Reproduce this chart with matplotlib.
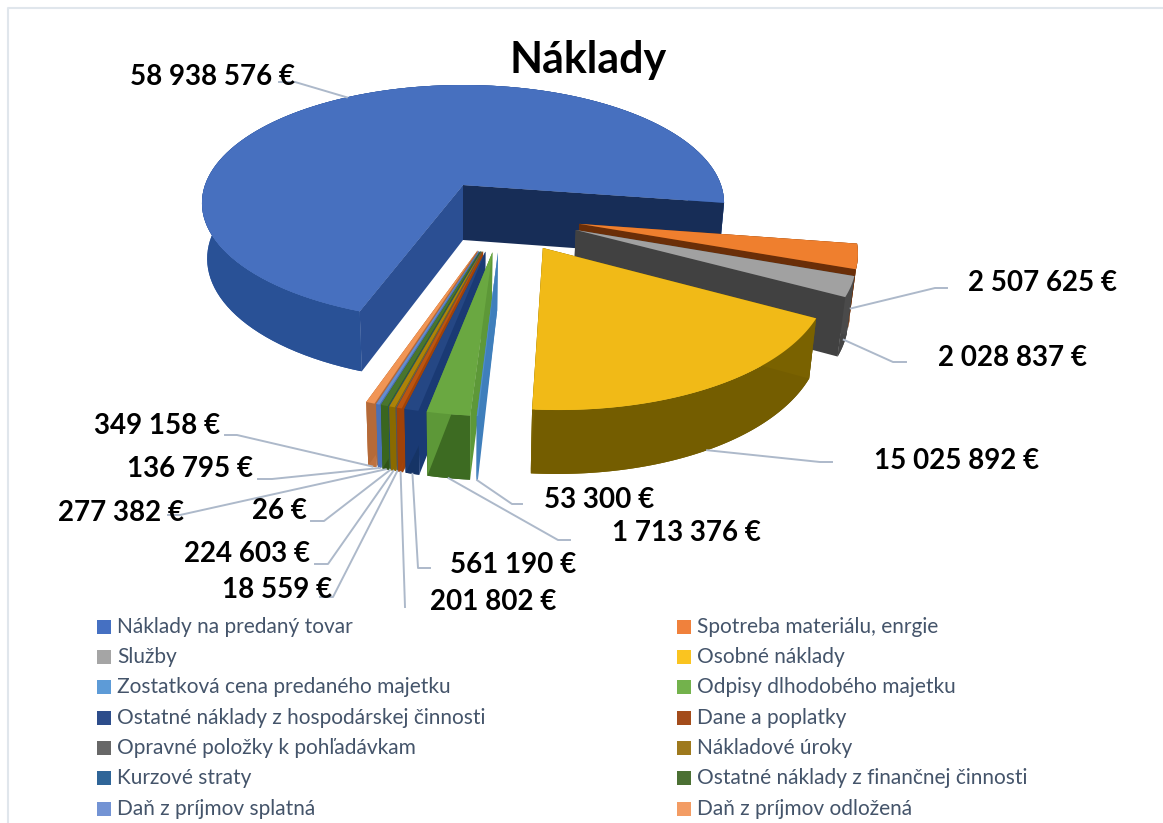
import numpy as np
import matplotlib
matplotlib.use("Agg")
import matplotlib.pyplot as plt
from matplotlib.colors import to_rgb, LinearSegmentedColormap
from matplotlib.patches import Polygon

plt.rcParams['font.family'] = ['Lato', 'DejaVu Sans']

# ==========================================
# data
# ==========================================
TITLE = "Náklady"
categories = ["Náklady na predaný tovar", "Spotreba materiálu, enrgie", "Služby", "Osobné náklady",
              "Zostatková cena predaného majetku", "Odpisy dlhodobého majetku",
              "Ostatné náklady z hospodárskej činnosti", "Dane a poplatky",
              "Opravné položky k pohľadávkam", "Nákladové úroky", "Kurzové straty",
              "Ostatné náklady z finančnej činnosti", "Daň z príjmov splatná", "Daň z príjmov odložená"]
values = [58938576, 2507625, 2028837, 15025892, 53300, 1713376, 561190,
          201802, 18559, 224603, 26, 277382, 136795, 349158]

# ==========================================
# styles
# ==========================================
top_colors = [("#5f80c6", "#2f60b8"), ("#f08a3c", "#ee7420"), ("#adadad", "#959595"), ("#fcc02e", "#e6b400"),
              ("#5a9bd5", "#4a87c0"), ("#74b04a", "#5f9f38"), ("#2a4a80", "#1f4388"), ("#b5500f", "#c05a10"),
              ("#707070", "#636363"), ("#b08a10", "#a87c00"), ("#2a6496", "#255e91"), ("#4f7a32", "#43702a"),
              ("#6f93d2", "#5f86cc"), ("#f4a061", "#ee8a48")]
rim_colors = [("#2f5aa6", "#234785"), ("#8f4512", "#7a390c"), ("#4a4a4a", "#404040"), ("#8a7000", "#5e4a00"),
              ("#3f7fbc", "#3a78b5"), ("#3f6f24", "#3a661f"), ("#15305f", "#17376c"), ("#a8440a", "#a04208"),
              ("#555555", "#555555"), ("#8a6a00", "#8a6a00"), ("#1e4e7a", "#1e4e7a"), ("#2f5318", "#2f5318"),
              ("#4a70b5", "#4a70b5"), ("#c87a45", "#b56a38")]
start_face = ["#2b4f93", "#7a390c", "#4a4a4a", "#7a6200", "#3f7fbc", "#5d9838", "#1a3a74", "#a04208",
              "#555555", "#8a6a00", "#1e4e7a", "#3a661f", "#4a70b5", "#b56a38"]
end_face = ["#172d57", "#6a2e08", "#414141", "#7a6200", "#3f7fbc", "#5d9838", "#1a3a74", "#a04208",
            "#555555", "#8a6a00", "#1e4e7a", "#3a661f", "#4a70b5", "#b56a38"]
legend_colors = [("#5b80cc", "#2f60b8"), ("#f4935a", "#ec6f1e"), ("#b5b5b5", "#949494"), ("#ffd040", "#f5b800"),
                 ("#6aa6de", "#4f90cf"), ("#82bb5c", "#64a83c"), ("#3a5a96", "#1f3f80"), ("#ad5a2e", "#9a3e08"),
                 ("#787878", "#555555"), ("#ab8a3a", "#916800"), ("#3f70a0", "#1f5a90"), ("#5f8050", "#376015"),
                 ("#7f9fdc", "#6688cc"), ("#f7a873", "#f08f55")]
LABEL_CENTERS = [(213, 77), (1043, 283), (1012, 358), (957, 461), (599, 500), (686, 533), (513, 565),
                 (493, 602), (277, 590), (247, 554), (279, 511), (121, 513), (190, 469), (157, 426)]
LEADER_ELBOWS = [[(295, 82), (279, 82)], [(935, 288), (947, 288)], [(893, 362), (906, 362)],
                 [(820, 462), (832, 462)], [(512, 504), (522, 504)], [(558, 540), (570, 540)],
                 [(418, 568), (430, 568)], [(405, 607)], [(333, 597), (320, 597)], [(328, 564), (315, 564)],
                 [(324, 521), (311, 521)], [(180, 515), (168, 515)], [(272, 479), (258, 479)],
                 [(237, 435), (225, 435)]]
LEADER_DEPTH = [0, 0.9, 0.9, 1, 1, 1, 1, 1, 1, 1, 1, 1, 1, 1]

# projection of the pie plane
END_OF_FIRST = 98.7  # clockwise from north, degrees
EXPLODE = 0.29
APEX_X, APEX_Y = 463, 185
SCALE_X, SCALE_Y, PERSP = 258, 115.25, 0.1525
N_ARC = 120


def project(u, v, z=0.0):
    u, v = np.asarray(u, float), np.asarray(v, float)
    w = 1 + PERSP * v
    x = APEX_X + SCALE_X * u / w
    y = APEX_Y - SCALE_Y * v / w + z * (25 + 30 / w)
    x = APEX_X + (x - APEX_X) * (1 - 0.02 * z)
    return x, y


def fill_gradient(ax, pts, c1, c2, horizontal=False):
    pts = np.asarray(pts)
    base = Polygon(pts, closed=True, facecolor=np.mean([to_rgb(c1), to_rgb(c2)], axis=0),
                   edgecolor="none", linewidth=0)
    ax.add_patch(base)
    x0, y0 = pts.min(axis=0)
    x1, y1 = pts.max(axis=0)
    if x1 - x0 < 2 or y1 - y0 < 2:
        return
    cmap = LinearSegmentedColormap.from_list("g", [c1, c2])
    grad = np.linspace(0, 1, 128)
    grad = grad[None, :] if horizontal else grad[:, None]
    im = ax.imshow(grad, cmap=cmap, extent=(x0, x1, y1, y0), aspect="auto", interpolation="bilinear")
    im.set_clip_path(Polygon(pts, closed=True, transform=ax.transData))


def draw_slice(ax, i, a0, a1):
    mid = np.radians((a0 + a1) / 2)
    first_mid = np.radians(first_span[0] + first_span[1]) / 2
    # offset from the first slice's apex, which sits at the projection origin
    cu = EXPLODE * (np.sin(mid) - np.sin(first_mid))
    cv = EXPLODE * (np.cos(mid) - np.cos(first_mid))
    t = np.radians(np.linspace(a0, a1, N_ARC))
    ru, rv = cu + np.sin(t), cv + np.cos(t)

    xt, yt = project(ru, rv, 0)
    xb, yb = project(ru, rv, 1)
    rim = np.r_[np.c_[xt, yt], np.c_[xb, yb][::-1]]
    fill_gradient(ax, rim, rim_colors[i][0], rim_colors[i][1], horizontal=True)

    ax_t, ay_t = project(cu, cv, 0)
    ax_b, ay_b = project(cu, cv, 1)
    for k, col in ((0, start_face[i]), (-1, end_face[i])):
        face = [(ax_t, ay_t), (xt[k], yt[k]), (xb[k], yb[k]), (ax_b, ay_b)]
        ax.add_patch(Polygon(face, closed=True, facecolor=col, edgecolor="none", linewidth=0))

    top = np.r_[[(ax_t, ay_t)], np.c_[xt, yt]]
    fill_gradient(ax, top, top_colors[i][0], top_colors[i][1])

    return project(cu + np.sin(mid), cv + np.cos(mid), LEADER_DEPTH[i])


# ==========================================
# main
# ==========================================
fig = plt.figure(figsize=(11.63, 8.23), dpi=100)
ax = fig.add_axes([0, 0, 1, 1])
ax.set_xlim(0, 1163)
ax.set_ylim(823, 0)
ax.axis("off")
ax.set_autoscale_on(False)

# frame
ax.plot([8, 8, 1163], [823, 8, 8], color="#e0e6ec", lw=1.5)

spans = np.array(values, float) / sum(values) * 360
first_span = (END_OF_FIRST - spans[0], END_OF_FIRST)
ends = END_OF_FIRST + np.cumsum(np.r_[0, spans[1:]])
angles = [first_span] + [(ends[i - 1], ends[i]) for i in range(1, len(values))]

# back to front: first slices on the right, then the bottom stack from left to right
order = [0, 1, 2] + list(range(len(values) - 1, 3, -1)) + [3]
anchors = {}
for i in order:
    anchors[i] = draw_slice(ax, i, angles[i][0], angles[i][1])

for i in order:
    line = [anchors[i]] + LEADER_ELBOWS[i]
    ax.plot([p[0] for p in line], [p[1] for p in line], color="#adb9ca", lw=1.4, zorder=5,
            solid_joinstyle="round")

for i, val in enumerate(values):
    txt = f"{val:,}".replace(",", " ") + " €"
    ax.text(LABEL_CENTERS[i][0], LABEL_CENTERS[i][1], txt, fontsize=20, fontweight="bold", color="black",
            ha="center", va="center", zorder=6)

ax.text(588, 60, TITLE, fontsize=31, fontweight="bold", color="black", ha="center", va="center", zorder=6)

# legend, two columns
row_y = [627, 657, 687, 718, 748, 778, 809]
col_x = [97, 677]
for i, name in enumerate(categories):
    x = col_x[i % 2]
    y = row_y[i // 2]
    box = [(x, y - 7), (x + 14, y - 7), (x + 14, y + 7), (x, y + 7)]
    fill_gradient(ax, box, legend_colors[i][0], legend_colors[i][1])
    ax.text(x + 20, y, name, fontsize=15, color="#44546a", ha="left", va="center", zorder=6)

fig.savefig("out.png", dpi=100)
